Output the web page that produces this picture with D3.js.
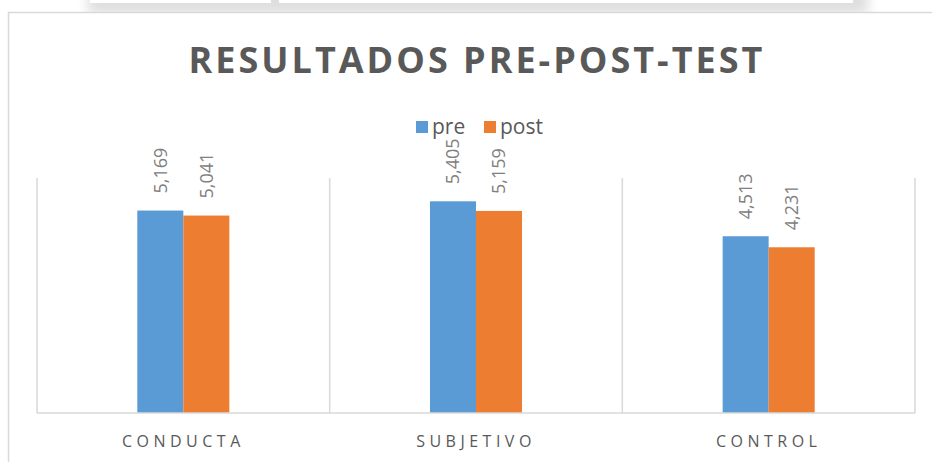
<!DOCTYPE html>
<html>
<head>
<meta charset="utf-8">
<script src="https://cdn.jsdelivr.net/npm/d3@7"></script>
<style>
  body { margin: 0; background: #fff; }
  text { font-family: "Open Sans", sans-serif; }
</style>
</head>
<body>
<svg width="932" height="462"></svg>
<script>
// data
var categories = ["CONDUCTA", "SUBJETIVO", "CONTROL"];
var series = ["pre", "post"];
var preValues = [5.169, 5.405, 4.513];
var postValues = [5.041, 5.159, 4.231];
var colors = ["#5b9bd5", "#ed7d31"];

var svg = d3.select("svg");

var data = categories.map(function(c, i) {
    return {cat: c, values: [
        {key: "pre", value: preValues[i]},
        {key: "post", value: postValues[i]}
    ]};
});

/* window shadow at the top + chart frame */
var defs = svg.append("defs");
defs.append("filter").attr("id", "blur")
    .append("feGaussianBlur").attr("stdDeviation", 6);
svg.append("rect").attr("x", 88).attr("y", -14).attr("width", 780).attr("height", 28)
    .attr("fill", "#dedede").attr("filter", "url(#blur)");
svg.append("rect").attr("x", 90).attr("y", -10).attr("width", 181).attr("height", 13).attr("fill", "#fff");
svg.append("rect").attr("x", 279).attr("y", -10).attr("width", 574).attr("height", 13).attr("fill", "#fff");
svg.append("rect").attr("x", 0).attr("y", 13).attr("width", 932).attr("height", 449).attr("fill", "#fff");
svg.append("path").attr("d", "M8.5,462V12.5H932")
    .attr("fill", "none").attr("stroke", "#d9d9d9").attr("stroke-width", 1.5);

// title
svg.append("text")
    .attr("x", 477).attr("y", 73)
    .attr("text-anchor", "middle")
    .style("font-size", "36px").style("font-weight", "bold")
    .style("letter-spacing", "3px")
    .attr("fill", "#595959")
    .text("RESULTADOS PRE-POST-TEST");

// legend
var legend = svg.append("g").selectAll("g")
    .data(series).enter().append("g")
    .attr("transform", function(d, i) { return "translate(" + [416, 484][i] + ",121)"; });
legend.append("rect").attr("width", 12).attr("height", 12)
    .attr("fill", function(d, i) { return colors[i]; });
legend.append("text").attr("x", 16).attr("y", 13)
    .style("font-size", "21px").attr("fill", "#595959")
    .text(function(d) { return d; });

/* scales */
var plotLeft = 37, plotRight = 915, plotTop = 178, plotBottom = 413;
var x0 = d3.scaleBand().domain(categories).range([plotLeft, plotRight]);
var x1 = d3.scaleBand().domain(series)
    .range([0, x0.bandwidth()]).paddingOuter(2.18);
var y = d3.scaleLinear().domain([0, 6]).range([plotBottom, plotTop]);

// vertical gridlines between categories
var edges = categories.map(function(c) { return x0(c); }).concat([plotRight]);
svg.append("g").selectAll("line")
    .data(edges).enter().append("line")
    .attr("x1", function(d) { return d; }).attr("x2", function(d) { return d; })
    .attr("y1", plotTop).attr("y2", plotBottom)
    .attr("stroke", "#d9d9d9").attr("stroke-width", 1.5);

var groups = svg.append("g").selectAll("g")
    .data(data).enter().append("g")
    .attr("transform", function(d) { return "translate(" + x0(d.cat) + ",0)"; });

groups.selectAll("rect")
    .data(function(d) { return d.values; })
    .enter().append("rect")
    .attr("x", function(d) { return x1(d.key); })
    .attr("y", function(d) { return y(d.value); })
    .attr("width", x1.bandwidth())
    .attr("height", function(d) { return plotBottom - y(d.value); })
    .attr("fill", function(d, i) { return colors[i]; });

// value labels, rotated
groups.selectAll(".lbl")
    .data(function(d) { return d.values; })
    .enter().append("text")
    .attr("class", "lbl")
    .attr("transform", function(d) {
        return "translate(" + (x1(d.key) + x1.bandwidth() / 2) + "," + (y(d.value) - 17) + ") rotate(-90)";
    })
    .attr("dy", "0.35em")
    .style("font-size", "18px").attr("fill", "#808080")
    .text(function(d) { return d3.format(".3f")(d.value).replace(".", ","); });

// x axis line + category labels
svg.append("line")
    .attr("x1", plotLeft).attr("x2", plotRight).attr("y1", plotBottom).attr("y2", plotBottom)
    .attr("stroke", "#d9d9d9").attr("stroke-width", 1.5);

svg.append("g").selectAll("text")
    .data(categories).enter().append("text")
    .attr("x", function(d) { return x0(d) + x0.bandwidth() / 2; })
    .attr("y", 447)
    .attr("text-anchor", "middle")
    .style("font-size", "16px").style("letter-spacing", "4.5px")
    .attr("fill", "#595959")
    .text(function(d) { return d; });
</script>
</body>
</html>
